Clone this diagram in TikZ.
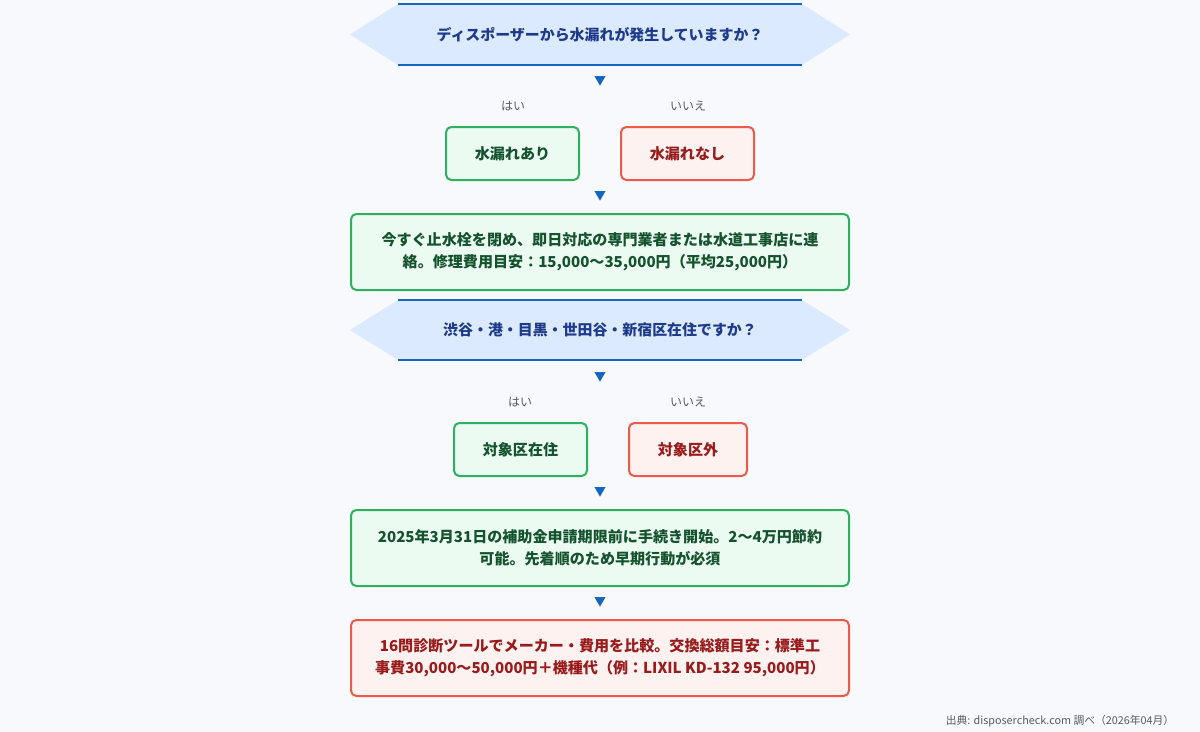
\documentclass[tikz,border=0pt]{standalone}
\usepackage{fontspec}
\setmainfont{Noto Sans CJK JP}
\usetikzlibrary{positioning}
\definecolor{bgc}{HTML}{F7F9FD}
\definecolor{qfill}{HTML}{DBEAFE}
\definecolor{qline}{HTML}{1565C0}
\definecolor{qtext}{HTML}{1E3A8A}
\definecolor{gline}{HTML}{2EB05E}
\definecolor{gfill}{HTML}{ECFBF2}
\definecolor{gtext}{HTML}{14532D}
\definecolor{rline}{HTML}{EC5A4A}
\definecolor{rfill}{HTML}{FEF2F1}
\definecolor{rtext}{HTML}{991B1B}
\definecolor{lbl}{HTML}{555B66}
\tikzset{
  yesbox/.style={draw=gline, fill=gfill, text=gtext, line width=1.5pt, rounded corners=4pt, font=\bfseries\fontsize{11.3}{16.5}\selectfont, align=center},
  nobox/.style={draw=rline, fill=rfill, text=rtext, line width=1.5pt, rounded corners=4pt, font=\bfseries\fontsize{11.3}{16.5}\selectfont, align=center},
  qtxt/.style={text=qtext, font=\bfseries\fontsize{11.2}{13}\selectfont},
  down/.style={text=qline, font=\fontsize{9}{9}\selectfont},
  ans/.style={text=lbl, font=\fontsize{9}{10}\selectfont}
}
\newcommand{\qshape}[3]{%
  \fill[qfill] (350,#2) -- (398,#1) -- (802,#1) -- (850,#2) -- (802,#3) -- (398,#3) -- cycle;
  \draw[qline, line width=1.1pt] (398,#1) -- (802,#1) (398,#3) -- (802,#3);}
\begin{document}
\begin{tikzpicture}[x=0.75pt, y=-0.75pt]
  \fill[bgc] (0,0) rectangle (1200,732);
  % first question
  \qshape{4}{34.5}{65}
  \node[qtxt] (Q1) at (600,34.5) {ディスポーザーから水漏れが発生していますか？};
  \node[down] (A1) at (600,81) {▼};
  \node[ans] (Y1) at (513,106) {はい};
  \node[ans] (N1) at (688,106) {いいえ};
  \node[yesbox, minimum width=99.75pt, minimum height=39.75pt] (LEAK) at (512.5,153.5) {水漏れあり};
  \node[nobox, minimum width=99.75pt, minimum height=39.75pt] (NOLEAK) at (687.5,153.5) {水漏れなし};
  \node[down] (A2) at (600,196) {▼};
  \node[yesbox, minimum width=373.5pt, minimum height=57pt] (CALL) at (600,252) {今すぐ止水栓を閉め、即日対応の専門業者または水道工事店に連\\絡。修理費用目安：15,000〜35,000円（平均25,000円）};
  % second question
  \qshape{300}{330}{360}
  \node[qtxt] (Q2) at (600,330) {渋谷・港・目黒・世田谷・新宿区在住ですか？};
  \node[down] (A3) at (600,377) {▼};
  \node[ans] (Y2) at (520,402) {はい};
  \node[ans] (N2) at (688,402) {いいえ};
  \node[yesbox, minimum width=99.75pt, minimum height=39.75pt] (INSIDE) at (520.5,449.5) {対象区在住};
  \node[nobox, minimum width=88.5pt, minimum height=39.75pt] (OUTSIDE) at (688,449.5) {対象区外};
  \node[down] (A4) at (600,492) {▼};
  \node[yesbox, minimum width=373.5pt, minimum height=57pt] (SUBSIDY) at (600,548) {2025年3月31日の補助金申請期限前に手続き開始。2〜4万円節約\\可能。先着順のため早期行動が必須};
  \node[down] (A5) at (600,602) {▼};
  \node[nobox, minimum width=373.5pt, minimum height=57pt] (COMPARE) at (600,658) {16問診断ツールでメーカー・費用を比較。交換総額目安：標準工\\事費30,000〜50,000円＋機種代（例：LIXIL KD-132 95,000円）};
  \node[anchor=east, text=lbl, font=\fontsize{8.1}{9}\selectfont] (SRC) at (1179,721) {出典: disposercheck.com 調べ（2026年04月）};
\end{tikzpicture}
\end{document}
